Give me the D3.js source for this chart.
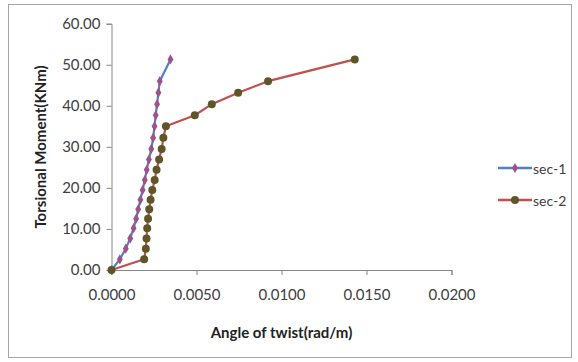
<!DOCTYPE html>
<html>
<head>
<meta charset="utf-8">
<script src="https://cdn.jsdelivr.net/npm/d3@7"></script>
<style>
  html, body { margin: 0; padding: 0; background: #fff; }
  svg { display: block; }
  text { font-family: Lato, "Open Sans", sans-serif; }
</style>
</head>
<body>
<svg id="chart" width="578" height="362"></svg>
<script>
// Torque (kNm) against angle of twist (rad/m) for two sections
const seriesNames = ["sec-1", "sec-2"];

const sec1Twist  = [0, 0.00049, 0.00084, 0.00110, 0.00130, 0.00145, 0.00157, 0.00170, 0.00183, 0.00196,
                    0.00207, 0.00220, 0.00234, 0.00245, 0.00253, 0.00260, 0.00268, 0.00276, 0.00284, 0.00347];
const sec1Moment = [0, 2.6, 5.2, 7.7, 10.2, 12.5, 14.8, 17.1, 19.5, 21.9,
                    24.4, 26.9, 29.5, 32.2, 35.0, 37.7, 40.4, 43.2, 46.0, 51.3];

const sec2Twist  = [0, 0.00192, 0.00202, 0.00206, 0.00210, 0.00215, 0.00222, 0.00230, 0.00240, 0.00254,
                    0.00265, 0.00280, 0.00295, 0.00305, 0.00320, 0.00490, 0.00590, 0.00745, 0.00921, 0.01431];
const sec2Moment = [0, 2.6, 5.2, 7.7, 10.2, 12.5, 14.8, 17.1, 19.5, 21.9,
                    24.4, 26.9, 29.5, 32.2, 35.0, 37.7, 40.4, 43.2, 46.0, 51.3];

const xTicks = [0, 0.005, 0.01, 0.015, 0.02];
const yTicks = [0, 10, 20, 30, 40, 50, 60];

const xTitle = "Angle of twist(rad/m)";
const yTitle = "Torsional Moment(KNm)";

const svg = d3.select("#chart");

// chart area frame
svg.append("rect")
  .attr("x", 8.5).attr("y", 4.5)
  .attr("width", 563).attr("height", 353)
  .attr("fill", "#fff")
  .attr("stroke", "#a6a6a6").attr("stroke-width", 1);

const x = d3.scaleLinear().domain([0, 0.02]).range([111.5, 451.5]);
const y = d3.scaleLinear().domain([0, 60]).range([270, 23.7]);

const axisColor = "#868686";
const labelColor = "#404040";

// y axis
const gy = svg.append("g")
  .attr("transform", `translate(${x(0)},0)`)
  .call(d3.axisLeft(y).tickValues(yTicks).tickFormat(d3.format(".2f")).tickSize(5).tickPadding(6));
// x axis
const gx = svg.append("g")
  .attr("transform", `translate(0,${y(0)})`)
  .call(d3.axisBottom(x).tickValues(xTicks).tickFormat(d3.format(".4f")).tickSize(5).tickPadding(14));

[gx, gy].forEach(g => {
  g.select(".domain").attr("stroke", axisColor);
  g.selectAll(".tick line").attr("stroke", axisColor);
  g.selectAll(".tick text")
    .attr("fill", labelColor)
    .style("font-family", "Lato, 'Open Sans', sans-serif")
    .style("font-size", "15px");
});

// axis titles
svg.append("text")
  .attr("x", 281.5).attr("y", 338)
  .attr("text-anchor", "middle")
  .attr("fill", "#222")
  .style("font-size", "15px").style("font-weight", "bold")
  .text(xTitle);

svg.append("text")
  .attr("transform", `translate(40,147) rotate(-90)`)
  .attr("text-anchor", "middle")
  .attr("dominant-baseline", "central")
  .attr("fill", "#222")
  .style("font-size", "15px").style("font-weight", "bold")
  .text(yTitle);

const styles = [
  { line: "#4f81bd", marker: "#a0508a", shape: d3.symbolDiamond, size: 30 },
  { line: "#c0504d", marker: "#5e5628", shape: d3.symbolCircle, size: 50 }
];

const data = [
  sec1Twist.map((t, i) => [t, sec1Moment[i]]),
  sec2Twist.map((t, i) => [t, sec2Moment[i]])
];

const line = d3.line().x(d => x(d[0])).y(d => y(d[1]));

data.forEach((pts, s) => {
  const st = styles[s];
  const g = svg.append("g");
  g.append("path")
    .attr("d", line(pts))
    .attr("fill", "none")
    .attr("stroke", st.line)
    .attr("stroke-width", 2.2)
    .attr("stroke-linejoin", "round");
  g.selectAll("path.m").data(pts).join("path")
    .attr("class", "m")
    .attr("transform", d => `translate(${x(d[0])},${y(d[1])})`)
    .attr("d", d3.symbol().type(st.shape).size(st.size))
    .attr("fill", st.marker);
});

// legend
const legendY = [168, 200];
seriesNames.forEach((name, i) => {
  const st = styles[i];
  const g = svg.append("g").attr("transform", `translate(498,${legendY[i]})`);
  g.append("line").attr("x1", 0).attr("x2", 34).attr("y1", 0).attr("y2", 0)
    .attr("stroke", st.line).attr("stroke-width", 2.5);
  g.append("path").attr("transform", "translate(17,0)")
    .attr("d", d3.symbol().type(st.shape).size(st.size))
    .attr("fill", st.marker);
  g.append("text").attr("x", 35).attr("y", 0)
    .attr("dominant-baseline", "central")
    .attr("fill", labelColor)
    .style("font-size", "14px")
    .text(name);
});
</script>
</body>
</html>
